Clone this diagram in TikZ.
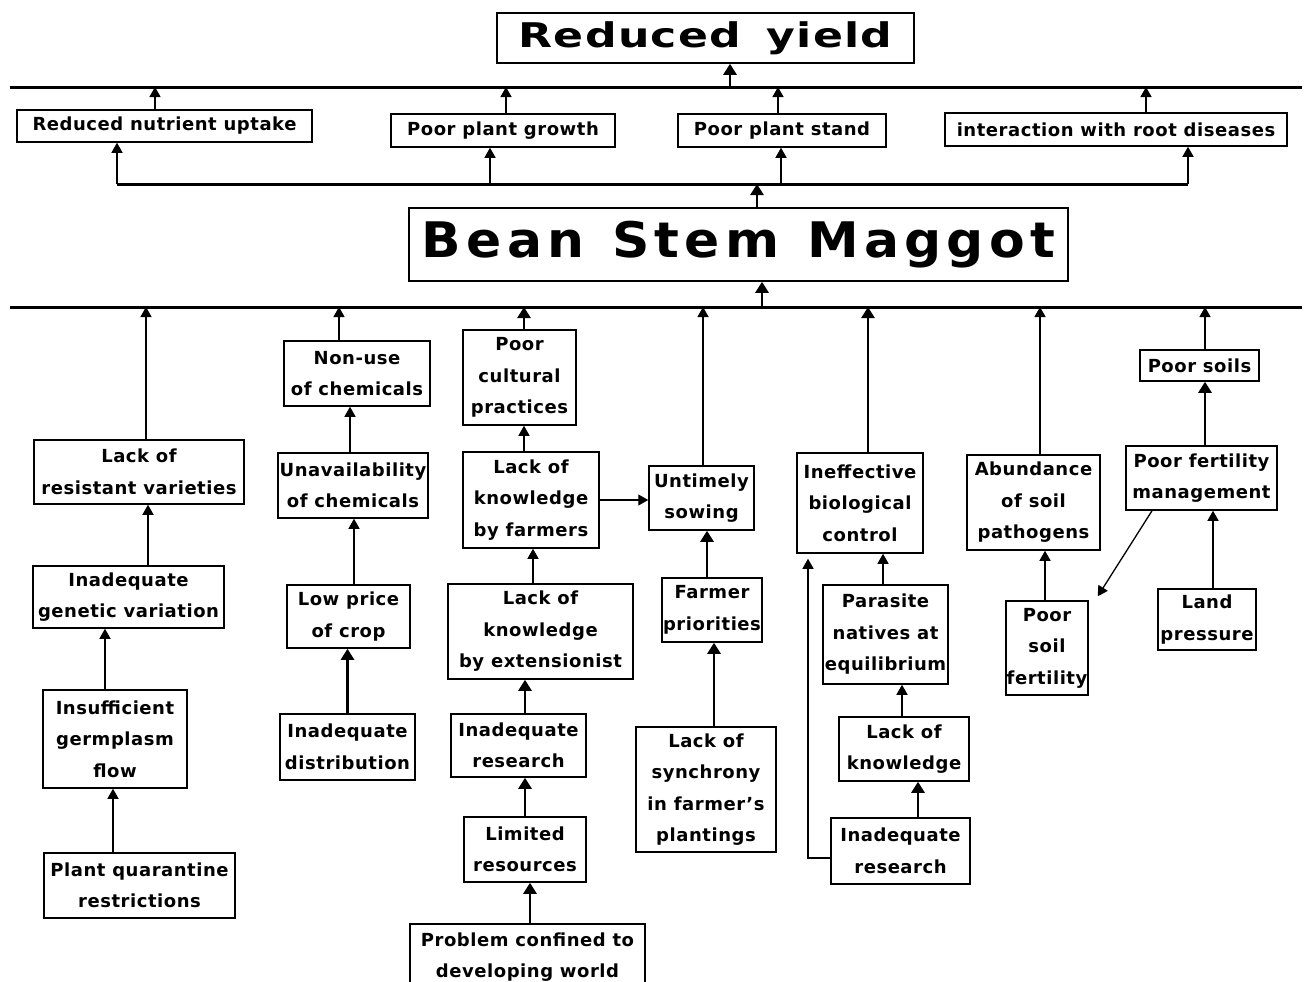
\documentclass[tikz,border=0pt]{standalone}
\usepackage{fontspec}
\setmainfont{DejaVu Sans}[LetterSpace=3]
\newfontfamily\bsmfont{DejaVu Sans}[LetterSpace=10, WordSpace=1.2]
\newfontfamily\yieldfont{DejaVu Sans}[LetterSpace=3, WordSpace=1.5]
\usetikzlibrary{arrows.meta}

\begin{document}
\begin{tikzpicture}[x=1pt, y=-1pt,
  bx/.style={draw, line width=1.5pt, inner sep=0pt, align=center,
    font=\bfseries\fontsize{18}{31.5}\selectfont},
  arr/.style={line width=1.3pt, -{Triangle[width=11pt,length=10pt]}},
  tarr/.style={line width=2.6pt, -{Triangle[width=13pt,length=11pt]}},
  bar/.style={line width=3pt}]

\fill[white] (0,0) rectangle (1306,982);
\useasboundingbox (0,0) rectangle (1306,982);

% ---------- effects ----------
\node[draw, line width=1.5pt, inner sep=0pt, minimum width=417, minimum height=50,
  font=\yieldfont\bfseries\fontsize{34}{40}\selectfont] (ry) at (705.5,38) {\scalebox{1.3}[1]{Reduced yield}};

\coordinate (b1L) at (10,87);
\coordinate (b1R) at (1302,87);
\draw[bar] (b1L) -- (b1R);
\draw[tarr] ([xshift=24.5pt]ry.south |- b1L) -- ([xshift=24.5pt]ry.south);

\node[bx, minimum width=295, minimum height=32] (rnu) at (164.5,126) {Reduced nutrient uptake};
\node[bx, minimum width=224, minimum height=33] (ppg) at (503,130.5) {Poor plant growth};
\node[bx, minimum width=208, minimum height=33] (pps) at (782,130.5) {Poor plant stand};
\node[bx, minimum width=342, minimum height=33] (irr) at (1116,129.5) {interaction with root diseases};

\draw[arr] ([xshift=-9.5pt]rnu.north) -- ([xshift=-9.5pt]rnu.north |- b1L);
\draw[arr] ([xshift=3pt]ppg.north) -- ([xshift=3pt]ppg.north |- b1L);
\draw[arr] ([xshift=-4pt]pps.north) -- ([xshift=-4pt]pps.north |- b1L);
\draw[arr] ([xshift=30pt]irr.north) -- ([xshift=30pt]irr.north |- b1L);

\coordinate (b2) at (0,184);
\draw[bar] ([xshift=-47.5pt]rnu.south |- b2) -- ([xshift=72pt]irr.south |- b2);
\draw[arr] ([xshift=-47.5pt]rnu.south |- b2) -- ([xshift=-47.5pt]rnu.south);
\draw[arr] ([xshift=-13pt]ppg.south |- b2) -- ([xshift=-13pt]ppg.south);
\draw[arr] ([xshift=-1pt]pps.south |- b2) -- ([xshift=-1pt]pps.south);
\draw[arr] ([xshift=72pt]irr.south |- b2) -- ([xshift=72pt]irr.south);

% ---------- the pest ----------
\node[draw, line width=1.5pt, inner sep=0pt, minimum width=659, minimum height=73,
  font=\bsmfont\bfseries\fontsize{49}{58}\selectfont] (bsm) at (738.5,244.5) {\scalebox{1.06}[1]{Bean Stem Maggot}};
\draw[tarr] ([xshift=18.5pt]bsm.north) -- ([xshift=18.5pt]bsm.north |- b2);

\coordinate (b3L) at (10,307);
\coordinate (b3R) at (1302,307);
\draw[bar] (b3L) -- (b3R);
\draw[tarr] ([xshift=23.5pt]bsm.south |- b3L) -- ([xshift=23.5pt]bsm.south);

% ---------- causes: varieties ----------
\node[bx, minimum width=210, minimum height=64] (lrv) at (139,472) {Lack of\\resistant varieties};
\node[bx, minimum width=191, minimum height=62] (igv) at (128.5,597) {Inadequate\\genetic variation};
\node[bx, minimum width=144, minimum height=98] (igf) at (115,739) {Insufficient\\germplasm\\flow};
\node[bx, minimum width=191, minimum height=65] (pqr) at (139.5,885.5) {Plant quarantine\\restrictions};

\draw[arr] ([xshift=7pt]lrv.north) -- ([xshift=7pt]lrv.north |- b3L);
\draw[arr] ([xshift=19.5pt]igv.north) -- ([xshift=19.5pt]igv.north |- lrv.south);
\draw[arr] ([xshift=-10pt]igf.north) -- ([xshift=-10pt]igf.north |- igv.south);
\draw[arr] ([xshift=-26.5pt]pqr.north) -- ([xshift=-26.5pt]pqr.north |- igf.south);

% ---------- causes: chemicals ----------
\node[bx, minimum width=146, minimum height=65] (nuc) at (357,373.5) {Non-use\\of chemicals};
\node[bx, minimum width=150, minimum height=65] (uoc) at (353,485.5) {Unavailability\\of chemicals};
\node[bx, minimum width=123, minimum height=63] (lpc) at (348.5,616.5) {Low price\\of crop};
\node[bx, minimum width=135, minimum height=66] (ind) at (347.5,747) {Inadequate\\distribution};

\draw[arr] ([xshift=-18pt]nuc.north) -- ([xshift=-18pt]nuc.north |- b3L);
\draw[arr] ([xshift=-3pt]uoc.north) -- ([xshift=-3pt]uoc.north |- nuc.south);
\draw[arr] ([xshift=5.5pt]lpc.north) -- ([xshift=5.5pt]lpc.north |- uoc.south);
\draw[tarr] (ind.north) -- (ind.north |- lpc.south);

% ---------- causes: cultural practices ----------
\node[bx, minimum width=113, minimum height=95] (pcp) at (519.5,377.5) {Poor\\cultural\\practices};
\node[bx, minimum width=136, minimum height=96] (lkf) at (531,500) {Lack of\\knowledge\\by farmers};
\node[bx, minimum width=185, minimum height=95] (lke) at (540.5,631.5) {Lack of\\knowledge\\by extensionist};
\node[bx, minimum width=135, minimum height=63] (ir1) at (518.5,745.5) {Inadequate\\research};
\node[bx, minimum width=122, minimum height=65] (lr) at (525,849.5) {Limited\\resources};
\node[bx, minimum width=235, minimum height=66] (pcd) at (527.5,957) {Problem confined to\\developing world};

\draw[tarr] ([xshift=4.5pt]pcp.north) -- ([xshift=4.5pt]pcp.north |- b3L);
\draw[arr] ([xshift=-7pt]lkf.north) -- ([xshift=-7pt]lkf.north |- pcp.south);
\draw[arr] ([xshift=-7.5pt]lke.north) -- ([xshift=-7.5pt]lke.north |- lkf.south);
\draw[tarr] ([xshift=6.5pt]ir1.north) -- ([xshift=6.5pt]ir1.north |- lke.south);
\draw[tarr] (lr.north) -- (lr.north |- ir1.south);
\draw[tarr] ([xshift=2.5pt]pcd.north) -- ([xshift=2.5pt]pcd.north |- lr.south);

% ---------- causes: sowing date ----------
\node[bx, minimum width=105, minimum height=64] (us) at (701.5,498) {Untimely\\sowing};
\node[bx, minimum width=100, minimum height=64] (fp) at (712,610) {Farmer\\priorities};
\node[bx, minimum width=140, minimum height=125] (ls) at (706,789.5) {Lack of\\synchrony\\in farmer's\\plantings};

\draw[arr] (lkf.east) -- (lkf.east -| us.west);
\draw[arr] ([xshift=1.5pt]us.north) -- ([xshift=1.5pt]us.north |- b3L);
\draw[tarr] ([xshift=-5pt]fp.north) -- ([xshift=-5pt]fp.north |- us.south);
\draw[tarr] ([xshift=8pt]ls.north) -- ([xshift=8pt]ls.north |- fp.south);

% ---------- causes: biological control ----------
\node[bx, minimum width=126, minimum height=100] (ibc) at (860,503) {Ineffective\\biological\\control};
\node[bx, minimum width=125, minimum height=99] (pne) at (885.5,634.5) {Parasite\\natives at\\equilibrium};
\node[bx, minimum width=130, minimum height=64] (lk) at (904,749) {Lack of\\knowledge};
\node[bx, minimum width=139, minimum height=66] (ir2) at (900.5,851) {Inadequate\\research};

\draw[tarr] ([xshift=8pt]ibc.north) -- ([xshift=8pt]ibc.north |- b3L);
\draw[arr] ([xshift=-2.5pt]pne.north) -- ([xshift=-2.5pt]pne.north |- ibc.south);
\draw[arr] ([xshift=-2pt]lk.north) -- ([xshift=-2pt]lk.north |- pne.south);
\draw[tarr] ([xshift=17.5pt]ir2.north) -- ([xshift=17.5pt]ir2.north |- lk.south);
\draw[arr] ([yshift=-7pt]ir2.west) -| ([xshift=-52pt,yshift=-5pt]ibc.south);

% ---------- causes: soil ----------
\node[bx, minimum width=133, minimum height=95] (asp) at (1033.5,502.5) {Abundance\\of soil\\pathogens};
\node[bx, minimum width=82, minimum height=94] (psf) at (1047,648) {Poor\\soil\\fertility};
\node[bx, minimum width=119, minimum height=31] (ps) at (1199.5,365.5) {Poor soils};
\node[bx, minimum width=151, minimum height=64] (pfm) at (1201.5,478) {Poor fertility\\management};
\node[bx, minimum width=98, minimum height=61] (lp) at (1207,619.5) {Land\\pressure};

\draw[arr] ([xshift=6.5pt]asp.north) -- ([xshift=6.5pt]asp.north |- b3L);
\draw[arr] ([xshift=-2pt]psf.north) -- ([xshift=-2pt]psf.north |- asp.south);
\draw[arr] ([xshift=5.5pt]ps.north) -- ([xshift=5.5pt]ps.north |- b3L);
\draw[tarr] ([xshift=3.5pt]pfm.north) -- ([xshift=3.5pt]pfm.north |- ps.south);
\draw[arr] ([xshift=6pt]lp.north) -- ([xshift=6pt]lp.north |- pfm.south);
\draw[arr] ([xshift=-49.5pt]pfm.south) -- ([xshift=9pt,yshift=4pt]psf.north east);

\end{tikzpicture}
\end{document}
